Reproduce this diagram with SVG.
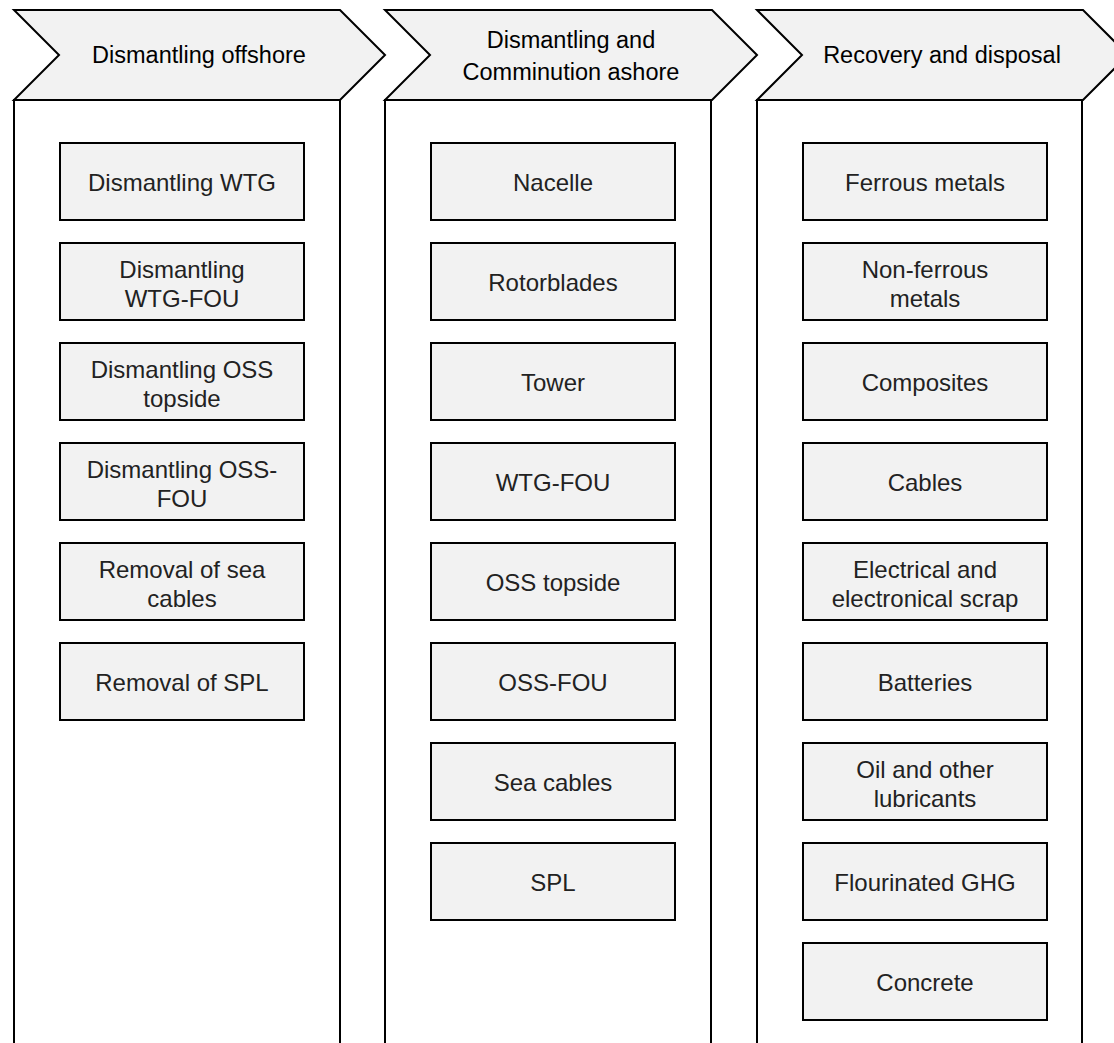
<svg xmlns="http://www.w3.org/2000/svg" width="1114" height="1043" viewBox="0 0 1114 1043">
  <style>
    .lane { fill: #ffffff; stroke: #000; stroke-width: 2; }
    .chev { fill: #f2f2f2; stroke: #000; stroke-width: 2; stroke-linejoin: miter; }
    .box { fill: #f2f2f2; stroke: #000; stroke-width: 2; }
    .hd { font-family: "Liberation Sans", Arial, sans-serif; font-size: 23.5px; fill: #000; text-anchor: middle; }
    .lbl { font-family: "Liberation Sans", Arial, sans-serif; font-size: 24px; fill: #222; text-anchor: middle; }
  </style>
  <rect width="1114" height="1043" fill="#ffffff"/>

  <!-- Lanes -->
  <g id="lanes">
    <rect class="lane" x="14" y="100" width="326" height="960"/>
    <rect class="lane" x="385" y="100" width="326" height="960"/>
    <rect class="lane" x="757" y="100" width="325" height="960"/>
  </g>

  <!-- Phase headers -->
  <g id="phase-offshore">
    <polygon class="chev" points="14,10 340,10 385,55 340,100 14,100 59,55"/>
    <text class="hd" x="199" y="63">Dismantling offshore</text>
  </g>
  <g id="phase-ashore">
    <polygon class="chev" points="385,10 712,10 757,55 712,100 385,100 430,55"/>
    <text class="hd" x="571" y="48">Dismantling and</text>
    <text class="hd" x="571" y="80">Comminution ashore</text>
  </g>
  <g id="phase-recovery">
    <polygon class="chev" points="757,10 1083,10 1128,55 1083,100 757,100 802,55"/>
    <text class="hd" x="942" y="63">Recovery and disposal</text>
  </g>

  <!-- Column 1: dismantling offshore -->
  <g id="n-dismantling-wtg"><rect class="box" x="60" y="143" width="244" height="77"/><text class="lbl" x="182" y="191">Dismantling WTG</text></g>
  <g id="n-dismantling-wtg-fou"><rect class="box" x="60" y="243" width="244" height="77"/><text class="lbl" x="182" y="278">Dismantling</text><text class="lbl" x="182" y="307">WTG-FOU</text></g>
  <g id="n-dismantling-oss-topside"><rect class="box" x="60" y="343" width="244" height="77"/><text class="lbl" x="182" y="378">Dismantling OSS</text><text class="lbl" x="182" y="407">topside</text></g>
  <g id="n-dismantling-oss-fou"><rect class="box" x="60" y="443" width="244" height="77"/><text class="lbl" x="182" y="478">Dismantling OSS-</text><text class="lbl" x="182" y="507">FOU</text></g>
  <g id="n-removal-sea-cables"><rect class="box" x="60" y="543" width="244" height="77"/><text class="lbl" x="182" y="578">Removal of sea</text><text class="lbl" x="182" y="607">cables</text></g>
  <g id="n-removal-spl"><rect class="box" x="60" y="643" width="244" height="77"/><text class="lbl" x="182" y="691">Removal of SPL</text></g>

  <!-- Column 2: dismantling and comminution ashore -->
  <g id="n-nacelle"><rect class="box" x="431" y="143" width="244" height="77"/><text class="lbl" x="553" y="191">Nacelle</text></g>
  <g id="n-rotorblades"><rect class="box" x="431" y="243" width="244" height="77"/><text class="lbl" x="553" y="291">Rotorblades</text></g>
  <g id="n-tower"><rect class="box" x="431" y="343" width="244" height="77"/><text class="lbl" x="553" y="391">Tower</text></g>
  <g id="n-wtg-fou"><rect class="box" x="431" y="443" width="244" height="77"/><text class="lbl" x="553" y="491">WTG-FOU</text></g>
  <g id="n-oss-topside"><rect class="box" x="431" y="543" width="244" height="77"/><text class="lbl" x="553" y="591">OSS topside</text></g>
  <g id="n-oss-fou"><rect class="box" x="431" y="643" width="244" height="77"/><text class="lbl" x="553" y="691">OSS-FOU</text></g>
  <g id="n-sea-cables"><rect class="box" x="431" y="743" width="244" height="77"/><text class="lbl" x="553" y="791">Sea cables</text></g>
  <g id="n-spl"><rect class="box" x="431" y="843" width="244" height="77"/><text class="lbl" x="553" y="891">SPL</text></g>

  <!-- Column 3: recovery and disposal -->
  <g id="n-ferrous"><rect class="box" x="803" y="143" width="244" height="77"/><text class="lbl" x="925" y="191">Ferrous metals</text></g>
  <g id="n-non-ferrous"><rect class="box" x="803" y="243" width="244" height="77"/><text class="lbl" x="925" y="278">Non-ferrous</text><text class="lbl" x="925" y="307">metals</text></g>
  <g id="n-composites"><rect class="box" x="803" y="343" width="244" height="77"/><text class="lbl" x="925" y="391">Composites</text></g>
  <g id="n-cables"><rect class="box" x="803" y="443" width="244" height="77"/><text class="lbl" x="925" y="491">Cables</text></g>
  <g id="n-weee"><rect class="box" x="803" y="543" width="244" height="77"/><text class="lbl" x="925" y="578">Electrical and</text><text class="lbl" x="925" y="607">electronical scrap</text></g>
  <g id="n-batteries"><rect class="box" x="803" y="643" width="244" height="77"/><text class="lbl" x="925" y="691">Batteries</text></g>
  <g id="n-oil"><rect class="box" x="803" y="743" width="244" height="77"/><text class="lbl" x="925" y="778">Oil and other</text><text class="lbl" x="925" y="807">lubricants</text></g>
  <g id="n-fghg"><rect class="box" x="803" y="843" width="244" height="77"/><text class="lbl" x="925" y="891">Flourinated GHG</text></g>
  <g id="n-concrete"><rect class="box" x="803" y="943" width="244" height="77"/><text class="lbl" x="925" y="991">Concrete</text></g>

  <!-- No connectors are drawn between the phases -->
  <g id="connectors"/>
</svg>
